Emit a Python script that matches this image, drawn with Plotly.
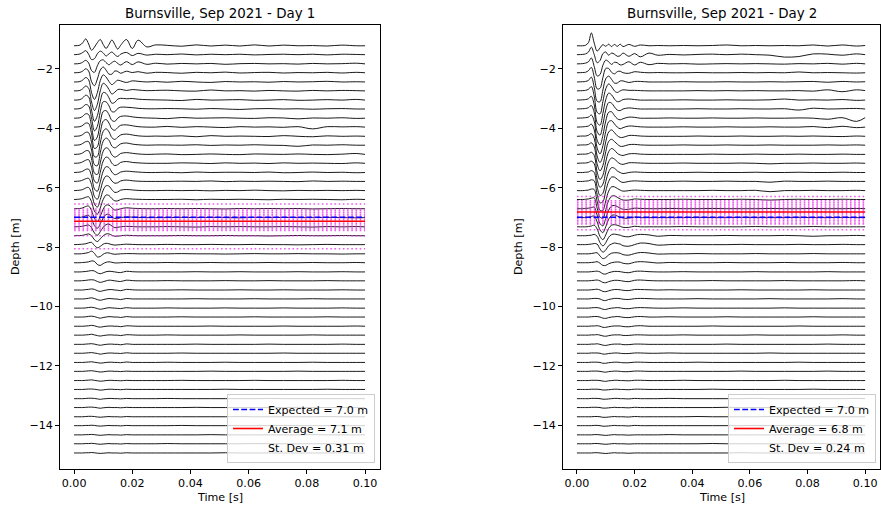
import plotly.graph_objects as go

# ---------------- data ----------------
# sample times of the digitised traces (ms)
t_ms = [0, 2, 3, 4, 5, 6, 7, 8, 9, 10, 11, 12, 13, 14, 15, 16, 18, 20, 22, 25, 28,
        32, 37, 42, 47, 52, 57, 62, 67, 72, 77, 82, 87, 92, 97, 100]

# receiver depths (m), 1 ft spacing
depths = [-1.22, -1.52, -1.83, -2.13, -2.44, -2.74, -3.05, -3.35, -3.66, -3.96,
          -4.27, -4.57, -4.88, -5.18, -5.49, -5.79, -6.10, -6.40, -6.71, -7.01,
          -7.32, -7.62, -7.92, -8.23, -8.53, -8.84, -9.14, -9.45, -9.75, -10.06,
          -10.36, -10.67, -10.97, -11.28, -11.58, -11.89, -12.19, -12.50, -12.80, -13.11,
          -13.41, -13.72, -14.02, -14.33, -14.63, -14.94]

# Day 1 trace amplitudes (cm) – early part (0-28 ms)
day1_early = [
    [0, 3, 14, 31, 8, -20, -6, 14, 28, 6, -12, 6, 26, 6, -15, 2, 28, -12, 25, -5, 4],
    [0, 3, 10, 18, 2, -22, -18, 4, 16, 8, -6, 4, 12, 0, -8, 2, 10, -4, 6, -2, 2],
    [0, 2, 8, 16, 4, -30, -38, -8, 14, 18, 6, -4, 6, 12, 2, -5, 10, -3, 9, -2, 3],
    [0, 2, 8, 18, 8, -40, -58, -28, 12, 26, 12, -6, -6, 8, 6, -2, 7, 1, 5, -2, 2],
    [0, 2, 9, 20, 10, -48, -78, -48, 6, 32, 22, 2, -12, -2, 8, 5, -2, 5, 3, 0, 2],
    [0, 2, 10, 22, 12, -50, -88, -60, 0, 34, 26, 6, -14, -6, 6, 7, 2, 6, 4, 1, 2],
    [0, 2, 10, 22, 14, -45, -95, -70, -6, 34, 30, 10, -14, -10, 4, 8, 6, 7, 4, 2, 1],
    [0, 2, 9, 20, 14, -40, -98, -78, -12, 32, 32, 14, -12, -12, 2, 8, 8, 6, 3, 1, 1],
    [0, 2, 9, 20, 16, -36, -100, -84, -18, 30, 34, 16, -10, -14, 0, 8, 10, 6, 3, 1, 0],
    [0, 2, 8, 18, 16, -30, -96, -88, -24, 26, 34, 18, -8, -14, -2, 8, 10, 6, 2, 0, 0],
    [0, 2, 8, 18, 16, -26, -92, -90, -30, 22, 34, 20, -6, -14, -4, 6, 10, 6, 2, 0, 1],
    [0, 2, 8, 16, 16, -22, -88, -92, -34, 18, 32, 22, -4, -12, -4, 6, 10, 5, 2, 0, 1],
    [0, 2, 7, 16, 16, -20, -84, -90, -38, 14, 30, 22, -2, -12, -6, 4, 8, 5, 2, 0, 1],
    [0, 2, 7, 14, 16, -18, -80, -88, -40, 10, 28, 22, 0, -10, -6, 4, 8, 4, 2, 0, 0],
    [0, 2, 6, 14, 15, -16, -74, -84, -42, 6, 26, 22, 2, -10, -6, 2, 6, 4, 2, 0, 0],
    [0, 2, 6, 12, 14, -14, -68, -80, -42, 4, 24, 20, 2, -8, -6, 2, 6, 3, 1, 0, 0],
    [0, 2, 5, 12, 14, -12, -60, -74, -40, 2, 22, 20, 4, -8, -6, 2, 5, 3, 1, 0, 0],
    [0, 2, 5, 10, 12, -10, -52, -66, -38, 0, 20, 18, 4, -6, -6, 0, 4, 2, 1, 0, 0],
    [0, 1, 4, 10, 12, -8, -44, -58, -34, -2, 16, 16, 4, -6, -4, 0, 4, 2, 1, 0, 0],
    [0, 1, 4, 8, 10, -6, -36, -48, -28, -2, 14, 14, 4, -4, -4, 0, 3, 2, 1, 0, 0],
    [0, 1, 3, 6, 8, -4, -28, -38, -22, -2, 10, 12, 4, -4, -2, 0, 2, 1, 0, 0, 0],
    [0, 1, 2, 5, 8, 0, -18, -26, -14, 0, 8, 8, 2, -2, -2, 0, 2, 1, 0, 0, 0],
    [0, 1, 2, 4, 8, 10, -4, -14, -8, 2, 6, 4, 0, -2, -1, 0, 2, 1, 0, 0, 0],
    [0, 0, 1, 3, 6, 12, 2, -14, -12, -2, 4, 4, 0, -2, -1, 0, 1, 1, 0, 0, 0],
    [0, 0, 1, 2, 4, 8, 6, -8, -12, -4, 2, 4, 2, -1, -1, 0, 1, 0, 0, 0, 0],
    [0, 0, 1, 2, 4, 6, 4, -4, -8, -4, 1, 3, 2, 0, -2, -3, 3, 1, 0, 0, 0],
    [0, 0, 1, 2, 4, 5, 3, -3, -7, -4, 0, 3, 2, 0, -2, -3, 3, 1, 0, 0, 0],
    [0, 0, 0, 2, 3, 5, 3, -3, -6, -3, 0, 2, 2, 0, -1, -3, 3, 1, 0, 0, 0],
    [0, 0, 0, 1, 3, 5, 2, -3, -6, -3, 0, 2, 1, 0, -1, -3, 2, 0, 0, 0, 0],
    [0, 0, 0, 1, 3, 4, 2, -2, -5, -3, 0, 2, 1, 0, -1, -2, 2, 0, 0, 0, 0],
    [0, 0, 0, 1, 3, 4, 2, -2, -5, -2, 0, 2, 1, 0, 0, -2, 2, 0, 0, 0, 0],
    [0, 0, 0, 1, 2, 4, 2, -2, -4, -2, 0, 1, 1, 0, 0, -2, 2, 1, 0, 0, 0],
    [0, 0, 0, 1, 2, 4, 1, -2, -4, -2, 0, 1, 1, 0, 0, -2, 2, 1, 0, 0, 0],
    [0, 0, 0, 1, 2, 3, 1, -2, -4, -2, 0, 1, 1, 0, 0, -2, 2, 0, 0, 0, 0],
    [0, 0, 0, 1, 2, 3, 1, -1, -4, -2, 0, 1, 1, 0, 0, -1, 2, 0, 0, 0, 0],
    [0, 0, 0, 1, 2, 3, 1, -1, -3, -2, 0, 1, 1, 0, 0, -1, 2, 0, 0, 0, 0],
    [0, 0, 0, 1, 2, 3, 1, -1, -3, -2, 0, 1, 1, 0, 0, -1, 1, 0, 0, 0, 0],
    [0, 0, 0, 1, 2, 3, 1, -1, -3, -2, 0, 1, 1, 0, 0, -1, 1, 0, 0, 0, 0],
    [0, 0, 0, 1, 2, 2, 1, -1, -3, -2, 0, 1, 1, 0, 0, -1, 1, 0, 0, 0, 0],
    [0, 0, 0, 1, 2, 2, 1, -1, -3, -1, 0, 1, 1, 0, 0, -1, 1, 0, 0, 0, 0],
    [0, 0, 0, 1, 2, 2, 1, -1, -3, -1, 0, 1, 0, 0, 0, -1, 1, 0, 0, 0, 0],
    [0, 0, 0, 1, 2, 2, 1, -1, -2, -1, 0, 1, 0, 0, 0, -1, 1, 0, 0, 0, 0],
    [0, 0, 0, 1, 1, 2, 1, -1, -2, -1, 0, 1, 0, 0, 0, -1, 1, 0, 0, 0, 0],
    [0, 0, 0, 1, 1, 2, 1, -1, -2, -1, 0, 1, 0, 0, 0, -1, 1, 0, 0, 0, 0],
    [0, 0, 0, 1, 1, 2, 1, -1, -2, -1, 0, 1, 0, 0, 0, -1, 1, 0, 0, 0, 0],
    [0, 0, 0, 1, 1, 2, 1, -1, -2, -1, 0, 1, 0, 0, 0, -1, 1, 0, 0, 0, 0],
]

# Day 1 trace amplitudes (cm) – late part (32-100 ms)
day1_late = [
    [2, -2, 4, -1, 3, -1, 4, -1, 3, 0, 1, -1, 3, 0, 0],
    [0, 3, -1, 2, 0, 2, -1, 1, 2, 0, 2, -1, 2, 1, 0],
    [-1, 2, 0, 2, -2, 1, 2, 0, 1, -1, 2, 0, 1, 3, 0],
    [1, -2, 2, 0, 3, -1, 1, 2, -1, 1, 0, 2, -1, 2, 0],
    [-1, 3, 0, -2, 2, 0, 1, -1, 2, 0, 1, 3, 0, 1, 0],
    [3, 0, -1, 4, 0, 1, -1, 2, 0, -1, 2, 0, 2, 1, 0],
    [0, -2, 3, 0, 1, 2, -1, 0, 2, -1, 0, 2, 0, 3, 0],
    [2, 1, -1, 2, 0, -2, 1, 2, 0, 1, -1, 1, 2, 0, 0],
    [-2, 3, 0, 1, 2, 0, -1, 2, 1, -3, 1, 0, 2, -1, 0],
    [3, -1, 2, 0, -2, 2, 0, 1, -1, 2, -8, 2, 1, 2, 0],
    [0, 2, -2, 3, 0, 1, 0, -1, 3, 0, -2, 2, 0, 1, 0],
    [1, 0, 2, -1, 1, 0, 2, 0, -1, -5, 1, 0, 2, 0, 0],
    [2, -1, 0, 2, 0, -1, 2, 1, 0, 2, 0, -1, 1, 4, 0],
    [0, 2, 1, -1, 2, 0, 1, -1, 2, 0, 1, 0, -1, 2, 0],
    [1, -1, 2, 0, 1, 1, 0, 2, -1, 0, 2, 0, 1, -1, 0],
    [0, 1, 0, 2, -1, 1, 0, 1, 0, -1, 2, 0, 1, 0, 0],
    [1, 0, 1, -1, 1, 0, 2, 0, -1, 1, 0, 1, 0, 1, 0],
    [0, 1, -1, 1, 0, 1, 0, -1, 1, 0, 1, 0, -1, 1, 0],
    [1, 0, 1, 0, -1, 1, 0, 1, 0, 1, -1, 0, 1, 0, 0],
    [0, 1, 0, 1, 0, -1, 1, 0, 1, 0, 0, 1, 0, -1, 0],
    [1, 0, -1, 1, 0, 1, 0, 0, 1, 0, -1, 1, 0, 1, 0],
    [0, 1, 0, 0, 1, 0, 0, -1, 0, 1, 0, 0, 1, 0, 0],
    [1, 0, 0, 1, 0, 0, 1, 0, 0, -1, 0, 1, 0, 0, 0],
    [0, 1, 0, 0, -1, 0, 1, 0, 0, 1, 0, 0, -1, 0, 0],
    [1, 0, 0, 1, 0, 0, 0, 1, 0, 0, 1, 0, 0, 1, 0],
    [0, 0, 1, 0, 0, 1, 0, 0, 0, 1, 0, 0, 1, 0, 0],
    [1, 0, 0, 0, 1, 0, 0, 1, 0, 0, 0, 1, 0, 0, 0],
    [0, 1, 0, 0, 0, 1, 0, 0, 1, 0, 0, 0, 1, 0, 0],
    [0, 0, 1, 0, 0, 0, 1, 0, 0, 0, 1, 0, 0, 0, 0],
    [1, 0, 0, 0, 1, 0, 0, 0, 1, 0, 0, 0, 1, 0, 0],
    [0, 1, 0, 0, 0, 0, 1, 0, 0, 0, 0, 1, 0, 0, 0],
    [0, 0, 0, 1, 0, 0, 0, 0, 1, 0, 0, 0, 0, 1, 0],
    [1, 0, 0, 0, 0, 1, 0, 0, 0, 0, 1, 0, 0, 0, 0],
    [0, 0, 1, 0, 0, 0, 0, 1, 0, 0, 0, 0, 1, 0, 0],
    [0, 1, 0, 0, 0, 0, 0, 0, 1, 0, 0, 0, 0, 0, 0],
    [1, 0, 0, 0, 1, 0, 0, 0, 0, 0, 1, 0, 0, 0, 0],
    [0, 0, 0, 1, 0, 0, 0, 0, 0, 1, 0, 0, 0, 0, 0],
    [0, 1, 0, 0, 0, 0, 1, 0, 0, 0, 0, 0, 1, 0, 0],
    [0, 0, 0, 0, 1, 0, 0, 0, 0, 0, 0, 1, 0, 0, 0],
    [1, 0, 0, 0, 0, 0, 0, 1, 0, 0, 0, 0, 0, 0, 0],
    [0, 0, 1, 0, 0, 0, 0, 0, 0, 1, 0, 0, 0, 0, 0],
    [0, 0, 0, 0, 0, 1, 0, 0, 0, 0, 0, 1, 0, 0, 0],
    [0, 1, 0, 0, 0, 0, 0, 0, 1, 0, 0, 0, 0, 0, 0],
    [0, 0, 0, 1, 0, 0, 0, 0, 0, 0, 1, 0, 0, 0, 0],
    [1, 0, 0, 0, 0, 0, 1, 0, 0, 0, 0, 0, 0, 1, 0],
    [0, 0, 0, 0, 1, 0, 0, 0, 0, 0, 0, 0, 1, 0, 0],
]

# Day 2 trace amplitudes (cm) – early part (0-28 ms)
day2_early = [
    [0, 0, 2, 12, 48, 10, -20, -8, 4, -2, 6, -3, 5, -2, 6, -3, 5, -2, 3, 0, 1],
    [0, 1, 3, 10, 28, 0, -30, -22, 4, 10, -2, 6, 2, -6, -4, 6, -6, 4, -8, 6, -2],
    [0, 1, 3, 8, 22, -10, -45, -40, -5, 14, 8, -2, 6, 4, -4, -2, 8, -4, 6, -3, 2],
    [0, 1, 2, 8, 20, -16, -60, -58, -18, 16, 16, 2, -4, 4, 6, 0, -2, 4, 2, 0, 1],
    [0, 1, 2, 6, 18, -20, -72, -74, -30, 12, 22, 10, -4, -4, 4, 4, -2, 2, 2, 0, 0],
    [0, 1, 2, 6, 16, -20, -80, -86, -40, 8, 26, 16, 0, -6, 0, 4, 2, 2, 1, 0, 0],
    [0, 1, 2, 5, 14, -18, -84, -94, -50, 2, 26, 20, 4, -6, -4, 2, 4, 2, 0, 0, 0],
    [0, 1, 2, 5, 13, -14, -84, -98, -58, -4, 24, 22, 8, -4, -6, 0, 4, 2, 0, 0, 0],
    [0, 1, 2, 4, 12, -12, -82, -100, -64, -10, 22, 24, 10, -2, -6, -2, 4, 3, 0, 0, 0],
    [0, 1, 2, 4, 11, -10, -78, -100, -70, -16, 20, 24, 12, 0, -6, -2, 4, 3, 1, 0, 0],
    [0, 1, 1, 4, 10, -8, -74, -98, -74, -20, 16, 24, 14, 2, -4, -4, 3, 3, 1, 0, 0],
    [0, 1, 1, 3, 9, -6, -70, -96, -76, -24, 14, 22, 14, 4, -4, -4, 2, 3, 1, 0, 0],
    [0, 1, 1, 3, 8, -4, -66, -94, -78, -28, 10, 22, 16, 4, -2, -4, 2, 3, 1, 0, 0],
    [0, 1, 1, 3, 8, -2, -60, -90, -78, -32, 6, 20, 16, 6, -2, -4, 2, 2, 1, 0, 0],
    [0, 0, 1, 2, 7, 0, -54, -86, -78, -34, 2, 18, 16, 6, 0, -4, 0, 2, 1, 0, 0],
    [0, 0, 1, 2, 6, 2, -48, -80, -76, -36, 0, 16, 16, 8, 0, -4, 0, 2, 1, 0, 0],
    [0, 0, 1, 2, 6, 4, -40, -74, -74, -38, -2, 14, 14, 8, 2, -2, 0, 2, 1, 0, 0],
    [0, 0, 1, 2, 5, 6, -32, -66, -70, -38, -4, 12, 14, 8, 2, -2, -2, 2, 1, 0, 0],
    [0, 0, 1, 2, 4, 6, -24, -56, -64, -36, -6, 10, 12, 8, 2, -2, -2, 2, 1, 0, 0],
    [0, 0, 0, 1, 4, 6, -16, -46, -56, -34, -6, 8, 10, 6, 2, -2, -2, 2, 0, 0, 0],
    [0, 0, 0, 1, 3, 6, -8, -36, -48, -30, -6, 6, 8, 6, 2, -2, -2, 2, 0, 0, 0],
    [0, 0, 0, 1, 2, 5, -2, -26, -38, -26, -6, 4, 6, 4, 2, -2, -4, 2, 5, 3, -2],
    [0, 0, 0, 1, 2, 4, 2, -16, -28, -20, -4, 2, 6, 4, 2, -4, -6, 0, 6, 4, -2],
    [0, 0, 0, 0, 1, 3, 4, -8, -18, -14, -4, 2, 4, 4, 2, -3, -5, 1, 5, 3, -1],
    [0, 0, 0, 0, 1, 2, 4, -2, -10, -10, -4, 0, 2, 3, 2, -2, -4, 2, 4, 2, -1],
    [0, 0, 0, 0, 1, 2, 3, 0, -7, -8, -3, 0, 2, 2, 1, -1, -3, 2, 3, 1, 0],
    [0, 0, 0, 0, 1, 2, 3, 0, -6, -7, -3, 0, 2, 2, 1, -1, -3, 2, 3, 1, 0],
    [0, 0, 0, 0, 1, 2, 3, 0, -5, -6, -3, 0, 2, 2, 1, -1, -2, 2, 2, 1, 0],
    [0, 0, 0, 0, 1, 2, 2, 0, -5, -6, -2, 0, 2, 2, 1, -1, -2, 1, 2, 1, 0],
    [0, 0, 0, 0, 1, 2, 2, 0, -4, -5, -2, 0, 1, 2, 1, -1, -2, 1, 2, 1, 0],
    [0, 0, 0, 0, 1, 2, 2, 0, -4, -5, -2, 0, 1, 2, 1, -1, -2, 1, 2, 0, 0],
    [0, 0, 0, 0, 1, 1, 2, 0, -4, -4, -2, 0, 1, 1, 1, -1, -2, 1, 2, 0, 0],
    [0, 0, 0, 0, 1, 1, 2, 0, -3, -4, -2, 0, 1, 1, 1, -1, -1, 1, 1, 0, 0],
    [0, 0, 0, 0, 1, 1, 2, 0, -3, -4, -2, 0, 1, 1, 1, -1, -1, 1, 1, 0, 0],
    [0, 0, 0, 0, 1, 1, 1, 0, -3, -3, -1, 0, 1, 1, 0, -1, -1, 1, 1, 0, 0],
    [0, 0, 0, 0, 1, 1, 1, 0, -3, -3, -1, 0, 1, 1, 0, -1, -1, 1, 1, 0, 0],
    [0, 0, 0, 0, 1, 1, 1, 0, -2, -3, -1, 0, 1, 1, 0, -1, -1, 1, 1, 0, 0],
    [0, 0, 0, 0, 1, 1, 1, 0, -2, -3, -1, 0, 1, 1, 0, 0, -1, 1, 1, 0, 0],
    [0, 0, 0, 0, 1, 1, 1, 0, -2, -2, -1, 0, 1, 1, 0, 0, -1, 1, 1, 0, 0],
    [0, 0, 0, 0, 1, 1, 1, 0, -2, -2, -1, 0, 1, 1, 0, 0, -1, 1, 0, 0, 0],
    [0, 0, 0, 0, 1, 1, 1, 0, -2, -2, -1, 0, 1, 0, 0, 0, -1, 1, 0, 0, 0],
    [0, 0, 0, 0, 0, 1, 1, 0, -2, -2, -1, 0, 1, 0, 0, 0, -1, 1, 0, 0, 0],
    [0, 0, 0, 0, 0, 1, 1, 0, -2, -2, -1, 0, 1, 0, 0, 0, -1, 1, 0, 0, 0],
    [0, 0, 0, 0, 0, 1, 1, 0, -1, -2, -1, 0, 1, 0, 0, 0, -1, 0, 0, 0, 0],
    [0, 0, 0, 0, 0, 1, 1, 0, -1, -2, -1, 0, 1, 0, 0, 0, -1, 0, 0, 0, 0],
    [0, 0, 0, 0, 0, 1, 1, 0, -1, -2, -1, 0, 1, 0, 0, 0, -1, 0, 0, 0, 0],
]

# Day 2 trace amplitudes (cm) – late part (32-100 ms)
day2_late = [
    [0, 1, 0, 1, 3, 0, 1, 0, 1, 0, 3, -1, 3, -1, 1],
    [1, -1, 1, 2, 0, 2, 0, -2, -9, -7, 3, 2, -2, 3, 0],
    [0, 1, -1, 0, 1, 0, 1, 0, -1, 1, 0, 2, -1, 2, 0],
    [0, 0, 1, 0, 0, 1, 0, 1, 0, 3, 0, 1, 0, -1, 0],
    [0, 1, 0, 0, 1, 0, 0, 1, 0, 1, 2, -1, 2, 0, 1],
    [0, 0, 1, 0, 1, 0, 1, 0, 0, 1, -1, 4, -3, 4, 1],
    [0, 1, 0, 0, 1, 0, 0, 1, 4, 0, 1, 0, 2, -1, 0],
    [0, 0, 1, 0, 0, 1, 0, 0, 1, -4, 3, 0, 1, 2, 0],
    [1, 0, 0, 1, 0, 0, 1, 0, 0, 1, 0, -4, 2, -12, 2],
    [0, 1, 0, 0, 1, 0, 0, 1, 0, 0, 2, -2, 3, -2, 0],
    [0, 0, 1, 0, 0, 1, 0, 0, 1, 0, 1, 0, -1, 1, 0],
    [0, 1, 0, 0, 1, 0, 0, 1, 0, 0, 0, 1, 0, 1, 0],
    [0, 0, 0, 1, 0, 0, 1, 0, 0, 1, 0, 0, 1, 0, 0],
    [0, 1, 0, 0, 0, 1, 0, -2, 0, 0, 1, 0, 0, 1, 0],
    [0, 0, 1, 0, 0, 0, 1, 0, 0, 1, 0, 0, 1, 0, 0],
    [0, 1, 0, 0, 1, 0, 0, -3, 1, 0, 0, 1, 0, 0, 0],
    [0, 0, 0, 1, 0, 0, 1, -4, 0, 0, 1, 0, 0, 1, 0],
    [0, 1, 0, 0, 0, 1, 0, -2, 0, 1, 0, 0, 1, 0, 0],
    [1, 0, 0, 1, 0, 0, 0, 1, 0, 0, 1, 0, 0, 1, 0],
    [0, 0, 1, 0, 0, 1, 0, 0, 0, 1, 0, 0, 1, 0, 0],
    [0, 1, 0, 0, 0, 0, 1, 0, 0, 0, 1, 0, 0, 0, 0],
    [1, 0, 0, 0, 1, 0, 0, 0, 1, 0, -2, 0, 0, 1, 0],
    [0, 1, 0, 0, 0, 1, 0, 0, 0, 1, 0, 0, 1, 0, 0],
    [0, 0, 1, 0, 0, 0, 1, 0, 0, 0, 1, 0, 0, 0, 0],
    [1, 0, 0, 0, 1, 0, 0, 0, 1, 0, 0, 0, 1, 0, 0],
    [0, 1, 0, 0, 0, 0, 1, 0, 0, 0, 0, 1, 0, 0, 0],
    [0, 0, 0, 1, 0, 0, 0, 0, 1, 0, 0, 0, 0, 1, 0],
    [1, 0, 0, 0, 0, 1, 0, 0, 0, 0, 1, 0, 0, 0, 0],
    [0, 0, 1, 0, 0, 0, 0, 1, 0, 0, 0, 0, 1, 0, 0],
    [0, 1, 0, 0, 0, 0, 0, 0, 1, 0, 0, 0, 0, 0, 0],
    [1, 0, 0, 0, 1, 0, 0, 0, 0, 0, 1, 0, 0, 0, 0],
    [0, 0, 0, 1, 0, 0, 0, 0, 0, 1, 0, 0, 0, 0, 0],
    [0, 1, 0, 0, 0, 0, 1, 0, 0, 0, 0, 0, 1, 0, 0],
    [0, 0, 0, 0, 1, 0, 0, 0, 0, 0, 0, 1, 0, 0, 0],
    [1, 0, 0, 0, 0, 0, 0, 1, 0, 0, 0, 0, 0, 0, 0],
    [0, 0, 1, 0, 0, 0, 0, 0, 0, 1, 0, 0, 0, 0, 0],
    [0, 0, 0, 0, 0, 1, 0, 0, 0, 0, 0, 1, 0, 0, 0],
    [0, 1, 0, 0, 0, 0, 0, 0, 1, 0, 0, 0, 0, 0, 0],
    [0, 0, 0, 1, 0, 0, 0, 0, 0, 0, 1, 0, 0, 0, 0],
    [1, 0, 0, 0, 0, 0, 1, 0, 0, 0, 0, 0, 0, 1, 0],
    [0, 0, 0, 0, 1, 0, 0, 0, 0, 0, 0, 0, 1, 0, 0],
    [0, 0, 1, 0, 0, 0, 0, 1, 0, 0, 0, 0, 0, 0, 0],
    [0, 0, 0, 0, 0, 0, 1, 0, 0, 0, 0, 1, 0, 0, 0],
    [1, 0, 0, 0, 0, 0, 0, 0, 1, 0, 0, 0, 0, 0, 0],
    [0, 0, 0, 1, 0, 0, 0, 0, 0, 0, 1, 0, 0, 0, 0],
    [0, 0, 0, 0, 0, 1, 0, 0, 0, 0, 0, 0, 1, 0, 0],
]

# individual depth picks (m) drawn as dotted magenta lines
day1_picks = [-6.55, -6.72, -6.78, -6.84, -6.90, -6.96, -7.02, -7.08, -7.14,
              -7.20, -7.26, -7.32, -7.38, -7.44, -7.62, -8.06]
day2_picks = [-6.30, -6.44, -6.50, -6.56, -6.62, -6.68, -6.74, -6.80, -6.86,
              -6.92, -6.98, -7.04, -7.10, -7.16, -7.22, -7.42]

expected_depth = [-7.0, -7.0]
average_depth = [-7.13, -6.82]
panel_titles = ["Burnsville, Sep 2021 - Day 1", "Burnsville, Sep 2021 - Day 2"]
expected_labels = ["Expected = 7.0 m", "Expected = 7.0 m"]
average_labels = ["Average = 7.1 m", "Average = 6.8 m"]
stdev_labels = ["St. Dev = 0.31 m", "St. Dev = 0.24 m"]
x_ticks = [0.0, 0.02, 0.04, 0.06, 0.08, 0.10]
y_ticks = [-14, -12, -10, -8, -6, -4, -2]

# display gain of the wiggle traces (per panel)
trace_gain = [0.75, 0.9]

# ---------------- figure ----------------
FONT = "DejaVu Sans"
FS = 11.1      # base text size (px)
FS_TITLE = 13.4
fig = go.Figure()
t_s = [v / 1000.0 for v in t_ms]
t_line = [t_s[0], t_s[-1]]

panels = [
    (day1_early, day1_late, day1_picks, "x", "y", "legend"),
    (day2_early, day2_late, day2_picks, "x2", "y2", "legend2"),
]

for p, (early, late, picks, xa, ya, lg) in enumerate(panels):
    g = trace_gain[p]
    for d, e_row, l_row in zip(depths, early, late):
        amps = list(e_row) + list(l_row)
        fig.add_trace(go.Scatter(
            x=t_s, y=[d + g * a / 100.0 for a in amps], mode="lines",
            line=dict(color="black", width=0.9, shape="spline", smoothing=1.0),
            xaxis=xa, yaxis=ya, showlegend=False, hoverinfo="skip"))
    for pk in picks:
        fig.add_trace(go.Scatter(
            x=t_line, y=[pk, pk], mode="lines",
            line=dict(color="rgb(235,40,235)", width=1.6, dash="1.6px,2.6px"),
            opacity=0.75, xaxis=xa, yaxis=ya, showlegend=False, hoverinfo="skip"))
    fig.add_trace(go.Scatter(
        x=t_line, y=[expected_depth[p]] * 2, mode="lines",
        line=dict(color="blue", width=1.6, dash="5.8px,2.5px"),
        xaxis=xa, yaxis=ya, name=expected_labels[p], legend=lg, hoverinfo="skip"))
    fig.add_trace(go.Scatter(
        x=t_line, y=[average_depth[p]] * 2, mode="lines",
        line=dict(color="red", width=1.6),
        xaxis=xa, yaxis=ya, name=average_labels[p], legend=lg, hoverinfo="skip"))
    fig.add_trace(go.Scatter(
        x=t_line, y=[average_depth[p]] * 2, mode="lines",
        line=dict(color="rgba(0,0,0,0)", width=1.6),
        xaxis=xa, yaxis=ya, name=stdev_labels[p], legend=lg, hoverinfo="skip"))

W, H = 881, 507
ml, mr, mt, mb = 60, 1, 25, 38
pw = W - ml - mr
ph = H - mt - mb
x1_dom = [0.0, 320 / pw]
x2_dom = [503 / pw, 1.0]

axis_common = dict(showgrid=False, zeroline=False, showline=True, linecolor="black",
                   linewidth=0.9, mirror=True, ticks="outside", ticklen=3.9,
                   tickwidth=0.9, tickcolor="black",
                   tickfont=dict(family=FONT, size=FS, color="black"))
xr = [-0.00484, 0.10515]
yr = [-15.48, -0.52]

legend_style = dict(xanchor="right", yanchor="bottom",
                    bgcolor="rgba(255,255,255,0.8)", bordercolor="#cccccc", borderwidth=1,
                    font=dict(family=FONT, size=FS, color="black"), tracegroupgap=0)

fig.update_layout(
    width=W, height=H, margin=dict(l=ml, r=mr, t=mt, b=mb),
    paper_bgcolor="white", plot_bgcolor="white",
    font=dict(family=FONT, size=FS, color="black"),
    xaxis=dict(domain=x1_dom, range=xr, tickvals=x_ticks, tickformat=".2f", anchor="y", **axis_common),
    yaxis=dict(domain=[0, 1], range=yr, tickvals=y_ticks, anchor="x", **axis_common),
    xaxis2=dict(domain=x2_dom, range=xr, tickvals=x_ticks, tickformat=".2f", anchor="y2", **axis_common),
    yaxis2=dict(domain=[0, 1], range=yr, tickvals=y_ticks, anchor="x2", **axis_common),
    legend=dict(x=(375 - ml) / pw, y=(469 - 463) / ph, **legend_style),
    legend2=dict(x=(876 - ml) / pw, y=(469 - 463) / ph, **legend_style),
    showlegend=True,
)

annots = []
centers = [(60 + 380) / 2, (563 + 880) / 2]
ylab_x = [15, 518]


def to_plot(px, py):
    """pixel position in the figure -> paper coords of the plot area"""
    return (px - ml) / pw, (H - mb - py) / ph


for p in range(2):
    x, y = to_plot(centers[p], 13)
    annots.append(dict(x=x, y=y, xref="paper", yref="paper", text=panel_titles[p],
                       showarrow=False, font=dict(family=FONT, size=FS_TITLE, color="black"),
                       xanchor="center", yanchor="middle"))
    x, y = to_plot(centers[p], 497)
    annots.append(dict(x=x, y=y, xref="paper", yref="paper", text="Time [s]",
                       showarrow=False, font=dict(family=FONT, size=FS, color="black"),
                       xanchor="center", yanchor="middle"))
    x, y = to_plot(ylab_x[p], 247)
    annots.append(dict(x=x, y=y, xref="paper", yref="paper", text="Depth [m]",
                       showarrow=False, textangle=-90,
                       font=dict(family=FONT, size=FS, color="black"),
                       xanchor="center", yanchor="middle"))
fig.update_layout(annotations=annots)

fig.write_html("out.html", config={"displayModeBar": False},
               post_script="document.body.style.margin='0px';")
